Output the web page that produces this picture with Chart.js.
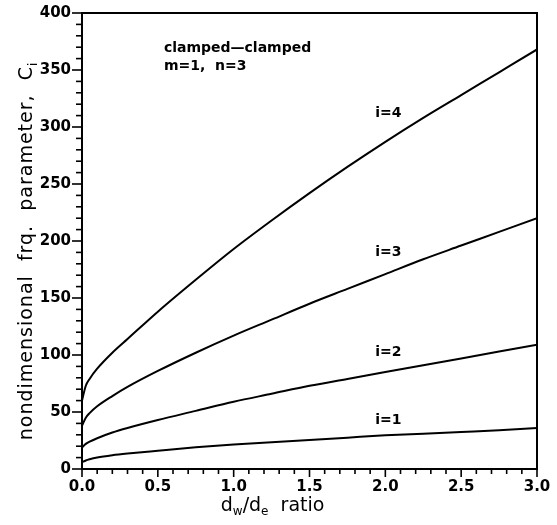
<!DOCTYPE html>
<html>
<head>
<meta charset="utf-8">
<script src="https://cdn.jsdelivr.net/npm/chart.js@4.4.1/dist/chart.umd.min.js"></script>
<style>
  html, body { margin: 0; padding: 0; background: #fff; }
  #wrap { width: 557px; height: 525px; }
</style>
</head>
<body>
<div id="wrap"><canvas id="freqChart" width="557" height="525"></canvas></div>
<script>
// d_w/d_e ratio
const ratios = [0, 0.025, 0.05, 0.1, 0.2, 0.3, 0.5, 0.75, 1.0, 1.25, 1.5, 1.75, 2.0, 2.25, 2.5, 2.75, 3.0];
// nondimensional frequency parameter C_i, i = 1..4
const c1 = [6, 7.5, 8.5, 10, 12, 13.5, 16, 19, 21.5, 23.5, 25.5, 27.5, 29.5, 31, 32.5, 34, 36];
const c2 = [19, 22, 24, 27, 32, 36, 43, 51, 59, 66, 73, 79, 85, 91, 97, 103, 109];
const c3 = [38, 45, 49, 55, 64, 72, 86, 102, 117, 131, 145, 158, 171, 184, 196, 208, 220];
const c4 = [60, 73, 79, 88, 102, 114, 138, 166, 193, 218, 242, 265, 287, 308, 328, 348, 368];

const curveLabels = ['i=1', 'i=2', 'i=3', 'i=4'];
// where each curve label sits (x ratio, C value)
const labelX = [2.02, 2.02, 2.02, 2.02];
const labelY = [43, 102, 190, 312];

const xTicks = [0, 0.5, 1.0, 1.5, 2.0, 2.5, 3.0];
const yTicks = [0, 50, 100, 150, 200, 250, 300, 350, 400];

const font = '"DejaVu Sans", "Liberation Sans", Arial, sans-serif';

function pts(ys) {
    return ratios.map((x, k) => ({ x: x, y: ys[k] }));
}

// rahmen, ticks, titel und beschriftungen
const decor = {
    id: 'decor',
    afterDraw(chart) {
        const ctx = chart.ctx;
        const a = chart.chartArea;
        const xs = chart.scales.x, ys = chart.scales.y;
        ctx.save();
        ctx.strokeStyle = '#000';
        ctx.lineWidth = 2;
        ctx.strokeRect(a.left, a.top, a.right - a.left, a.bottom - a.top);

        // y ticks, minor every 10
        ctx.lineWidth = 1.6;
        for (let v = 0; v <= 400; v += 10) {
            const y = ys.getPixelForValue(v);
            const len = v % 50 === 0 ? 10 : 6;
            ctx.beginPath();
            ctx.moveTo(a.left - len, y);
            ctx.lineTo(a.left, y);
            ctx.stroke();
        }
        // x ticks, minor every 0.1
        for (let k = 0; k <= 30; k++) {
            const x = xs.getPixelForValue(k / 10);
            const len = k % 5 === 0 ? 8 : 5;
            ctx.beginPath();
            ctx.moveTo(x, a.bottom);
            ctx.lineTo(x, a.bottom + len);
            ctx.stroke();
        }

        ctx.fillStyle = '#000';
        // x title with subscripts
        let tx = a.left + (a.right - a.left) * 0.305;
        const ty = 511;
        ctx.textBaseline = 'alphabetic';
        ctx.textAlign = 'left';
        const parts = [['d', 19, 0], ['w', 12, 4], ['/d', 19, 0], ['e', 12, 4], ['  ratio', 19, 0]];
        parts.forEach(p => {
            ctx.font = p[1] + 'px ' + font;
            ctx.fillText(p[0], tx, ty + p[2]);
            tx += ctx.measureText(p[0]).width;
        });

        // y title rotated
        ctx.save();
        ctx.translate(27, (a.top + a.bottom) / 2 + 10);
        ctx.rotate(-Math.PI / 2);
        ctx.letterSpacing = '1px';
        const main = 'nondimensional  frq.  parameter,  C';
        ctx.font = '19px ' + font;
        const w1 = ctx.measureText(main).width;
        ctx.font = '12px ' + font;
        const w2 = ctx.measureText('i').width;
        let sx = -(w1 + w2) / 2;
        ctx.textBaseline = 'middle';
        ctx.font = '19px ' + font;
        ctx.fillText(main, sx, 0);
        ctx.font = '12px ' + font;
        ctx.fillText('i', sx + w1, 7);
        ctx.restore();

        // annotations
        ctx.font = 'bold 14px ' + font;
        ctx.textAlign = 'left';
        ctx.textBaseline = 'alphabetic';
        ctx.fillText('clamped\u2014clamped', xs.getPixelForValue(0.54), ys.getPixelForValue(366));
        ctx.fillText('m=1,  n=3', xs.getPixelForValue(0.54), ys.getPixelForValue(350));

        ctx.textAlign = 'center';
        ctx.textBaseline = 'middle';
        curveLabels.forEach((t, k) => {
            ctx.fillText(t, xs.getPixelForValue(labelX[k]), ys.getPixelForValue(labelY[k]));
        });
        ctx.restore();
    }
};

const series = [c1, c2, c3, c4].map((ys, k) => ({
    label: curveLabels[k],
    data: pts(ys),
    borderColor: '#000',
    borderWidth: 2,
    pointRadius: 0,
    fill: false,
    cubicInterpolationMode: 'monotone'
}));

new Chart(document.getElementById('freqChart').getContext('2d'), {
    type: 'line',
    data: { datasets: series },
    options: {
        responsive: false,
        animation: false,
        layout: { padding: { top: 13, right: 20, left: 0, bottom: 0 } },
        plugins: { legend: { display: false }, tooltip: { enabled: false } },
        scales: {
            x: {
                type: 'linear',
                min: 0,
                max: 3,
                afterBuildTicks: s => { s.ticks = xTicks.map(v => ({ value: v })); },
                afterFit: s => { s.height = 56; s.paddingLeft = 0; s.paddingRight = 0; },
                grid: { drawOnChartArea: false, drawTicks: false },
                border: { display: false },
                ticks: {
                    padding: 9,
                    color: '#000',
                    font: { family: font, size: 15, weight: 'bold' },
                    callback: v => Number(v).toFixed(1)
                }
            },
            y: {
                min: 0,
                max: 400,
                afterBuildTicks: s => { s.ticks = yTicks.map(v => ({ value: v })); },
                afterFit: s => { s.width = 82; s.paddingTop = 0; s.paddingBottom = 0; },
                grid: { drawOnChartArea: false, drawTicks: false },
                border: { display: false },
                ticks: {
                    padding: 11,
                    color: '#000',
                    font: { family: font, size: 15, weight: 'bold' }
                }
            }
        }
    },
    plugins: [decor]
});
</script>
</body>
</html>
